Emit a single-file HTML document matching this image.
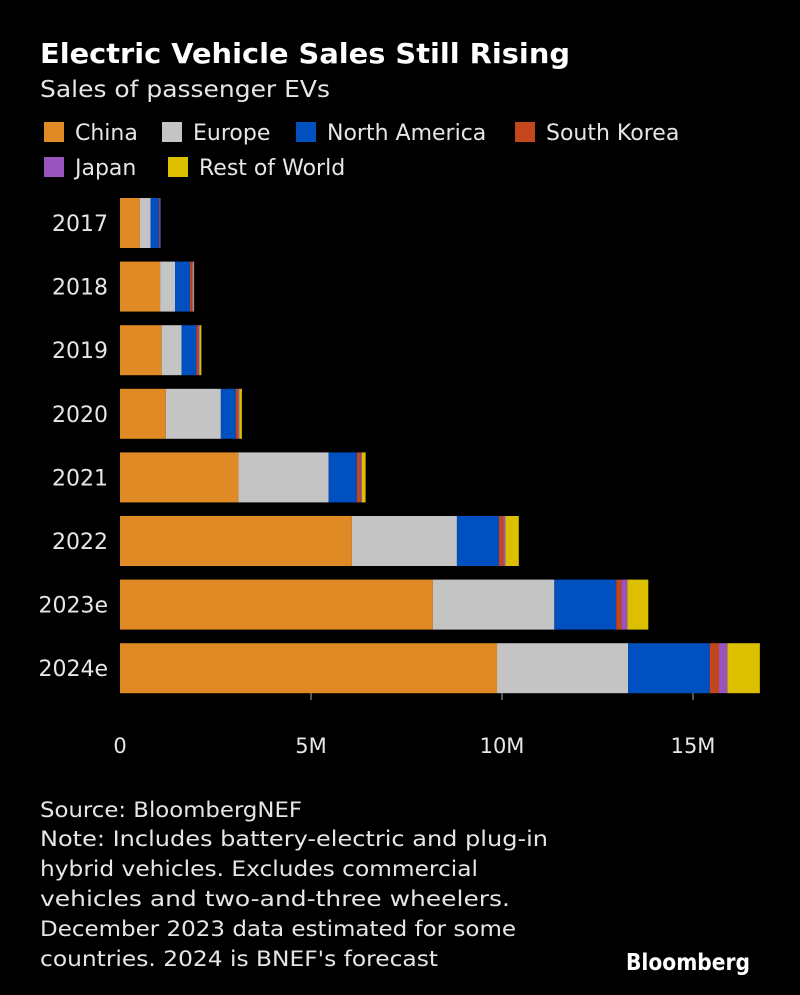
<!DOCTYPE html>
<html><head><meta charset="utf-8"><style>
html,body{margin:0;padding:0;background:#000;}
svg{display:block;font-family:"DejaVu Sans","Liberation Sans",sans-serif;}
</style></head><body>
<svg id="chart" width="800" height="995" viewBox="0 0 800 995">
<rect width="800" height="995" fill="#000"/>
<text x="40" y="63" fill="#fff" font-size="28" font-weight="bold" textLength="530" lengthAdjust="spacingAndGlyphs">Electric Vehicle Sales Still Rising</text>
<text x="40" y="97" fill="#e6e6e6" font-size="23" textLength="290" lengthAdjust="spacingAndGlyphs">Sales of passenger EVs</text>
<g id="legend"></g>
<g id="bars"></g>
<g id="axis"></g>
<g fill="#e6e6e6" font-size="21">
<text x="40" y="817" textLength="262" lengthAdjust="spacingAndGlyphs">Source: BloombergNEF</text>
<text x="40" y="846" textLength="508" lengthAdjust="spacingAndGlyphs">Note: Includes battery-electric and plug-in</text>
<text x="40" y="876" textLength="438" lengthAdjust="spacingAndGlyphs">hybrid vehicles. Excludes commercial</text>
<text x="40" y="906" textLength="470" lengthAdjust="spacingAndGlyphs">vehicles and two-and-three wheelers.</text>
<text x="40" y="936" textLength="476" lengthAdjust="spacingAndGlyphs">December 2023 data estimated for some</text>
<text x="40" y="966" textLength="398" lengthAdjust="spacingAndGlyphs">countries. 2024 is BNEF's forecast</text>
</g>
<text x="626" y="970" fill="#fff" font-size="23" font-weight="bold" textLength="124" lengthAdjust="spacingAndGlyphs">Bloomberg</text>
</svg>
<script>
const categories = ["2017","2018","2019","2020","2021","2022","2023e","2024e"];
const seriesNames = ["China","Europe","North America","South Korea","Japan","Rest of World"];
const china = [0.52,1.05,1.09,1.2,3.1,6.07,8.19,9.87];
const europe = [0.28,0.39,0.52,1.44,2.36,2.75,3.18,3.43];
const northAmerica = [0.22,0.39,0.39,0.39,0.74,1.1,1.62,2.14];
const southKorea = [0.02,0.05,0.05,0.06,0.1,0.12,0.14,0.24];
const japan = [0.02,0.04,0.03,0.03,0.03,0.05,0.15,0.22];
const restOfWorld = [0.0,0.02,0.05,0.07,0.1,0.35,0.55,0.85];
const tickValues = [0,5,10,15];
const tickLabels = ["0","5M","10M","15M"];
const colors = ["#e08a25","#c4c4c4","#0050c0","#c4461c","#9a54c0","#dcc000"];
const series = [china,europe,northAmerica,southKorea,japan,restOfWorld];
const NS = "http://www.w3.org/2000/svg";
const x0 = 120, pxPerM = 38.2;
function xScale(v){ return x0 + v*pxPerM; }
function yScale(i){ return 198 + i*63.6; }
const barH = 50;
function mk(tag, attrs, parent){ const e=document.createElementNS(NS,tag); for(const k in attrs) e.setAttribute(k,attrs[k]); parent.appendChild(e); return e; }
// legend
const lg = document.getElementById('legend');
const legPos = [[45,122],[397,122],[296,122],[515,122],[45,157],[168,157]];
const legX = [[44,75],[162,193],[296,327],[515,546],[44,75],[168,199]];
seriesNames.forEach((n,i)=>{
  const row = i<4?122:157;
  const g = mk('g',{},lg);
  
  
  mk('rect',{x:legX[i][0],y:row,width:20,height:20,fill:colors[i]},g);
  const t = mk('text',{x:legX[i][1],y:row+18,fill:'#e6e6e6','font-size':22},g);
  t.textContent = n;
});
// bars
const bg = document.getElementById('bars');
categories.forEach((c,i)=>{
  const y = yScale(i);
  const lab = mk('text',{x:108,y:y+barH/2+8,fill:'#e6e6e6','font-size':22,'text-anchor':'end'},bg);
  lab.textContent = c;
  
  
  let acc = 0;
  series.forEach((s,j)=>{
    const v = s[i];
    if(v<=0){ return; }
    const r = mk('rect',{x:xScale(acc),y:y,width:v*pxPerM,height:barH,fill:colors[j]},bg);
    
    
    acc += v;
  });
});
// axis
const ax = document.getElementById('axis');
tickValues.forEach((v,i)=>{
  const x = xScale(v);
  if(v>0){
    const l = mk('line',{x1:x,x2:x,y1:693,y2:700,stroke:'#aaa','stroke-width':1},ax);
    
    
  }
  const t = mk('text',{x:x,y:753,fill:'#e6e6e6','font-size':21,'text-anchor':'middle'},ax);
  t.textContent = tickLabels[i];
  
  
});
</script>
</body></html>
